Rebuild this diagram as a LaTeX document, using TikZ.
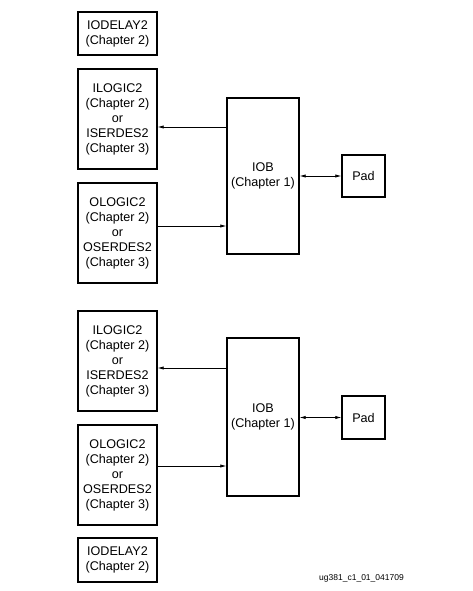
\documentclass[tikz,border=0pt]{standalone}
\usepackage{fontspec}
\setmainfont{Liberation Sans}
\usetikzlibrary{arrows.meta, positioning}

\begin{document}
\begin{tikzpicture}[x=1pt, y=-1pt,
	blk/.style={draw, line width=1.3pt, align=center, inner sep=0pt,
		font=\fontsize{12.6}{15}\selectfont},
	arr/.style={line width=0.7pt, -{Latex[length=6pt, width=3.2pt]}},
	darr/.style={line width=0.7pt, {Latex[length=6pt, width=3.2pt]}-{Latex[length=6pt, width=3.2pt]}}]
	
	% parameters
	\def\bw{79}    % width of the left blocks
	\def\bh{100}   % height of the logic blocks
	
	\useasboundingbox (0,0) rectangle (472,591);
	
	% upper group
	\node[blk, minimum width=\bw, minimum height=43] (del1) at (117.5,33.5) {IODELAY2\\(Chapter 2)};
	\node[blk, minimum width=\bw, minimum height=\bh] (ilog1) at (117.5,119) {ILOGIC2\\(Chapter 2)\\or\\ISERDES2\\(Chapter 3)};
	\node[blk, minimum width=\bw, minimum height=\bh] (olog1) at (117.5,233) {OLOGIC2\\(Chapter 2)\\or\\OSERDES2\\(Chapter 3)};
	\node[blk, minimum width=72, minimum height=156] (iob1) at (263,176) {IOB\\(Chapter 1)};
	\node[blk, minimum width=43, minimum height=42] (pad1) at (363.5,176) {Pad};
	
	\draw[arr] ([yshift=-8pt]ilog1.east -| iob1.west) -- ([yshift=-8pt]ilog1.east);
	\draw[arr] ([yshift=7pt]olog1.east) -- ([yshift=7pt]olog1.east -| iob1.west);
	\draw[darr] (iob1.east) -- (pad1.west);
	
	% lower group
	\node[blk, minimum width=\bw, minimum height=\bh] (ilog2) at (117.5,361) {ILOGIC2\\(Chapter 2)\\or\\ISERDES2\\(Chapter 3)};
	\node[blk, minimum width=\bw, minimum height=\bh] (olog2) at (117.5,475) {OLOGIC2\\(Chapter 2)\\or\\OSERDES2\\(Chapter 3)};
	\node[blk, minimum width=\bw, minimum height=44] (del2) at (117.5,560) {IODELAY2\\(Chapter 2)};
	\node[blk, minimum width=72, minimum height=158] (iob2) at (263,417) {IOB\\(Chapter 1)};
	\node[blk, minimum width=43, minimum height=43] (pad2) at (363.5,417.5) {Pad};
	
	\draw[arr] ([yshift=-7pt]ilog2.east -| iob2.west) -- ([yshift=-7pt]ilog2.east);
	\draw[arr] ([yshift=9pt]olog2.east) -- ([yshift=9pt]olog2.east -| iob2.west);
	\draw[darr] (pad2.west -| iob2.east) -- (pad2.west);
	
	% figure number
	\node[font=\fontsize{8.5}{10}\selectfont] (fig) at (361.5,578) {ug381\_c1\_01\_041709};
	
\end{tikzpicture}
\end{document}
